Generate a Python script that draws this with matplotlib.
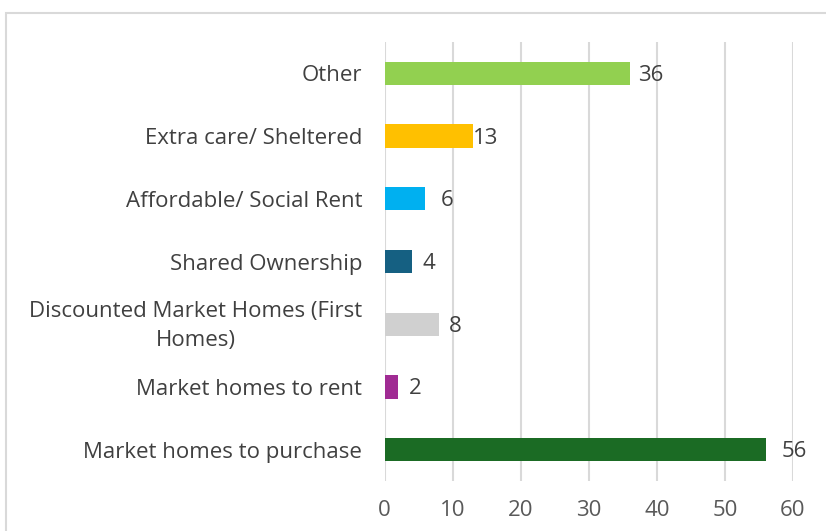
import matplotlib.pyplot as plt
import matplotlib.transforms as mtrans
from matplotlib.patches import Rectangle

plt.rcParams['font.family'] = ['Open Sans', 'DejaVu Sans']

# categories from bottom to top
categories = ['Market homes to purchase', 'Market homes to rent',
              'Discounted Market Homes (First\nHomes)', 'Shared Ownership',
              'Affordable/ Social Rent', 'Extra care/ Sheltered', 'Other']
values = [56, 2, 8, 4, 6, 13, 36]
colors = ['#1b6b24', '#a02b93', '#d0d0d0', '#156082', '#00b0f0', '#ffc000', '#92d050']
label_pad = [16, 11, 10, 11, 15, 0, 8]  # px gap between bar end and number

W, H = 826, 531
fig = plt.figure(figsize=(W / 100, H / 100), dpi=100)
ax = fig.add_axes([384.5 / W, 1 - 481 / H, (793 - 384.5) / W, (481 - 42) / H])

y = range(len(categories))
ax.barh(y, values, height=0.37, color=colors, zorder=3)
ax.set_xlim(0, 60)
ax.set_ylim(-0.5, 6.5)
ax.set_xticks(range(0, 61, 10))
ax.set_yticks(list(y))
ax.set_yticklabels(categories, ha='right', multialignment='center', linespacing=1.5)
ax.tick_params(length=0, colors='#404040')
ax.tick_params(axis='y', pad=16, labelsize=16)
ax.tick_params(axis='x', pad=14, labelsize=16, colors='#595959')
ax.grid(axis='x', color='#d9d9d9', linewidth=1.5, zorder=0)
for s in ax.spines.values():
    s.set_visible(False)

# nudge the two-line label up a little
lab = ax.get_yticklabels()[2]
lab.set_transform(lab.get_transform() + mtrans.ScaledTranslation(0, 5 / 100, fig.dpi_scale_trans))

for i, v in enumerate(values):
    ax.annotate(str(v), (v, i), xytext=(label_pad[i], -2), textcoords='offset pixels',
                va='center', ha='left', fontsize=16, color='#404040')

# chart border (cut off at right and bottom like the source)
fig.patches.append(Rectangle((6 / W, -0.1), 1.2, 1 - 13 / H + 0.1, transform=fig.transFigure,
                             fill=False, edgecolor='#d9d9d9', linewidth=1.5))

plt.savefig('out.png', dpi=100)
